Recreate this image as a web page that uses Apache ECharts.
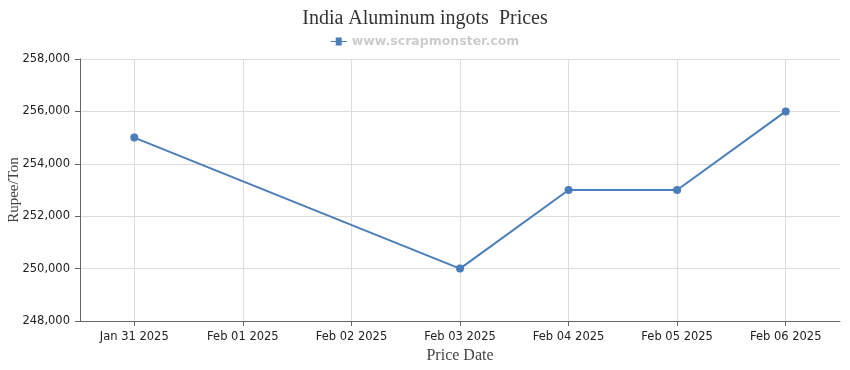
<!DOCTYPE html>
<html><head><meta charset="utf-8">
<script src="https://cdn.jsdelivr.net/npm/echarts@6/dist/echarts.min.js"></script>
<style>html,body{margin:0;padding:0;background:#fff}#c{width:850px;height:370px}</style>
</head><body><div id="c"></div>
<script>
var categories = ['Jan 31 2025','Feb 01 2025','Feb 02 2025','Feb 03 2025','Feb 04 2025','Feb 05 2025','Feb 06 2025'];
var prices = [255000, null, null, 250000, 253000, 253000, 256000];
var yTicks = [248000, 250000, 252000, 254000, 256000, 258000];
var seriesName = 'www.scrapmonster.com';
var titleText = 'India Aluminum ingots  Prices';

var chart = echarts.init(document.getElementById('c'), null, {renderer:'canvas'});
chart.setOption({
  animation:false,
  backgroundColor:'#fff',
  title:{text:titleText,left:'center',top:4,textStyle:{fontFamily:'Liberation Serif',fontSize:20,fontWeight:'normal',color:'#333'}},
  legend:{top:30,left:'center',itemWidth:16,itemHeight:8,itemGap:5,
    data:[{name:seriesName,icon:'path://M0,3.5L5,3.5L5,0L11,0L11,3.5L16,3.5L16,4.5L11,4.5L11,8L5,8L5,4.5L0,4.5Z'}],
    textStyle:{fontFamily:'DejaVu Sans',fontSize:12.5,fontWeight:'bold',color:'#cccccc'}},
  grid:{left:80,right:10,top:59,bottom:49,containLabel:false,outerBoundsMode:'none'},
  xAxis:{type:'category',data:categories,boundaryGap:true,
    name:'Price Date',nameLocation:'middle',nameGap:27,nameMoveOverlap:false,
    nameTextStyle:{fontFamily:'Liberation Serif',fontSize:16,color:'#444'},
    axisLine:{lineStyle:{color:'#666',width:1}},
    axisTick:{show:true,alignWithLabel:true,length:5,lineStyle:{color:'#666'}},
    axisLabel:{fontFamily:'DejaVu Sans',fontSize:11.5,color:'#222',margin:10,interval:0},
    splitLine:{show:true,alignWithLabel:true,lineStyle:{color:'#dddddd'}}},
  yAxis:{type:'value',min:yTicks[0],max:yTicks[yTicks.length-1],interval:2000,
    name:'Rupee/Ton',nameLocation:'middle',nameGap:58,nameMoveOverlap:false,
    nameTextStyle:{fontFamily:'Liberation Serif',fontSize:15,color:'#444'},
    axisLine:{show:true,lineStyle:{color:'#666'}},
    axisTick:{show:true,length:5,lineStyle:{color:'#666'}},
    axisLabel:{fontFamily:'DejaVu Sans',fontSize:11.5,color:'#222',margin:10,
      formatter:function(v){return v.toLocaleString('en-US');}},
    splitLine:{show:true,lineStyle:{color:'#dddddd'}}},
  series:[{name:seriesName,type:'line',data:prices,connectNulls:true,
    symbol:'circle',symbolSize:8,
    itemStyle:{color:'#4a7ebb'},lineStyle:{color:'#4a7ebb',width:2}}]
});
</script></body></html>
